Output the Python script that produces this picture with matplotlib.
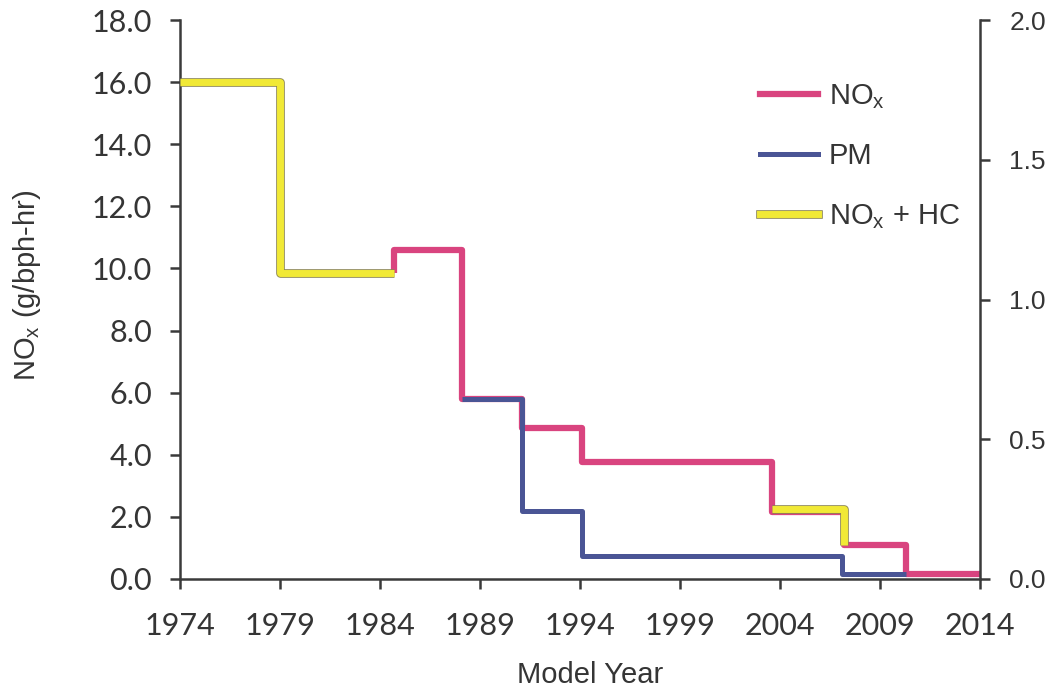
import numpy as np
import matplotlib
matplotlib.use("Agg")
import matplotlib.pyplot as plt
import matplotlib.patheffects as pe

plt.rcParams["font.family"] = ["Liberation Sans", "DejaVu Sans"]
plt.rcParams["mathtext.fontset"] = "custom"
plt.rcParams["mathtext.rm"] = "Liberation Sans"
plt.rcParams["mathtext.it"] = "Liberation Sans"

# step data (years where each level starts)
nox_years = [1984.7, 1984.7, 1988.1, 1991.1, 1994.1, 2003.6, 2007.2, 2010.3, 2014]
nox_vals = [9.85, 10.6, 5.8, 4.85, 3.77, 2.15, 1.1, 0.17, 0.17]

hc_years_a = [1974, 1979, 1984.7]
hc_vals_a = [16.0, 9.85, 9.85]
hc_years_b = [2003.6, 2007.2]
hc_vals_b = [2.25, 1.1]

pm_years = [1988.1, 1991.1, 1994.1, 2007.1, 2010.3]
pm_vals = [0.645, 0.243, 0.083, 0.017, 0.017]   # right axis

x_ticks = [1974, 1979, 1984, 1989, 1994, 1999, 2004, 2009, 2014]
left_ticks = np.arange(0, 18.1, 2.0)
right_ticks = np.arange(0, 2.01, 0.5)

pink = "#d9447f"
blue = "#4a5595"
yellow = "#f1e936"
axcol = "#3a3a3a"
txtcol = "#353535"
outline = [pe.Stroke(linewidth=6.2, foreground="#8a8450"), pe.Normal()]

fig = plt.figure(figsize=(10.52, 6.91), dpi=100)
ax = fig.add_axes([180/1052, 1-579/691, 800/1052, 559/691])
ax2 = ax.twinx()

ax.plot(nox_years, nox_vals, drawstyle="steps-post", color=pink, lw=4.5,
        solid_joinstyle="round", solid_capstyle="butt", zorder=2)
for xs, ys in [(hc_years_a, hc_vals_a), (hc_years_b, hc_vals_b)]:
    ax.plot(xs, ys, drawstyle="steps-post", color=yellow, lw=5,
            solid_joinstyle="round", solid_capstyle="butt", zorder=4,
            path_effects=outline)
ax2.plot(pm_years, pm_vals, drawstyle="steps-post", color=blue, lw=3.6,
         solid_joinstyle="round", solid_capstyle="butt", zorder=3)

ax.set_xlim(1974, 2014)
ax.set_ylim(0, 18)
ax2.set_ylim(0, 2.0)
ax.set_xticks(x_ticks)
ax.set_yticks(left_ticks)
ax2.set_yticks(right_ticks)
ax.set_yticklabels([f"{v:.1f}" for v in left_ticks])
ax2.set_yticklabels([f"{v:.1f}" for v in right_ticks])

for a in (ax, ax2):
    for s in a.spines.values():
        s.set_color(axcol)
        s.set_linewidth(1.8)
    a.spines["top"].set_visible(False)
    a.tick_params(length=7, width=1.8, color=axcol, labelcolor=txtcol)
ax.spines["right"].set_visible(False)
ax2.spines["left"].set_visible(False)
ax2.spines["bottom"].set_visible(False)

ax.tick_params(axis="y", labelsize=22, pad=13)
ax.tick_params(axis="x", labelsize=22, pad=17)
ax2.tick_params(axis="y", labelsize=19, pad=14)
for lab in ax.get_xticklabels() + ax.get_yticklabels():
    lab.set_family("Lato")

ax.set_xlabel("Model Year", fontsize=21, color=txtcol)
ax.xaxis.set_label_coords(0.5125, -0.147)
ax.set_ylabel(r"NO$_\mathregular{x}$ (g/bph-hr)", fontsize=21, color=txtcol)
ax.yaxis.set_label_coords(-0.171, 0.526)

handles = [
    plt.Line2D([], [], color=pink, lw=4.5),
    plt.Line2D([], [], color=blue, lw=3.6),
    plt.Line2D([], [], color=yellow, lw=5, path_effects=outline),
]
labels = [r"NO$_\mathregular{x}$", "PM", r"NO$_\mathregular{x}$ + HC"]
leg = fig.legend(handles, labels, loc="upper left",
                 bbox_to_anchor=(760/1052, 1-82/691), frameon=False,
                 fontsize=21, handlelength=2.0, handletextpad=0.35,
                 labelspacing=1.08, borderpad=0, borderaxespad=0)
for t in leg.get_texts():
    t.set_color(txtcol)

fig.savefig("out.png", dpi=100, facecolor="white")
